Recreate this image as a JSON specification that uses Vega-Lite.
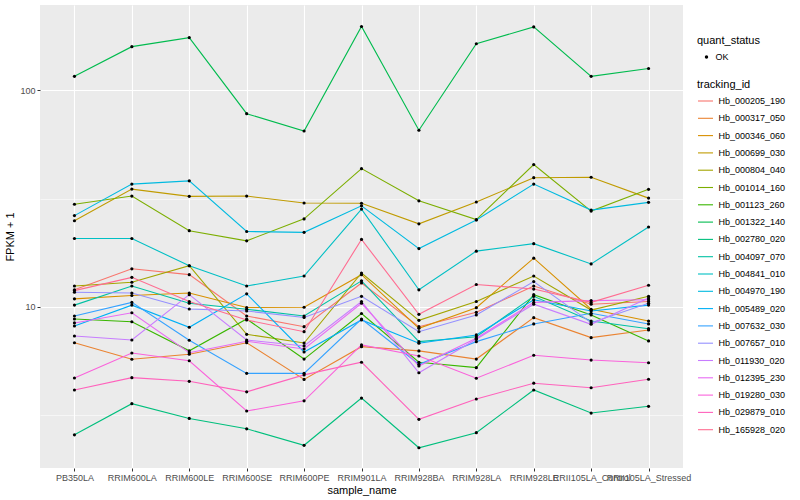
{
"$schema": "https://vega.github.io/schema/vega-lite/v6.json",
"width": 643, "height": 463,
"autosize": {"type": "none"},
"padding": {"left": 40, "top": 5, "right": 117, "bottom": 32},
"background": "white",
"config": {
  "font": "Liberation Sans",
  "view": {"fill": "#EBEBEB", "stroke": null},
  "axis": {"domain": false, "gridColor": "white", "tickColor": "#333333", "tickSize": 3, "labelColor": "#4D4D4D", "labelFontSize": 9, "labelPadding": 2, "titleFontSize": 11, "titleFontWeight": "normal", "titleColor": "black"},
  "legend": {"padding": 0, "titleFontSize": 11, "titleFontWeight": "normal", "titleColor": "black", "labelFontSize": 9, "labelColor": "black", "labelOffset": 4.5}
},
"data": {"values": [
{"tracking_id":"Hb_000205_190","sample_name":"PB350LA","fpkm":12.0,"quant_status":"OK"},
{"tracking_id":"Hb_000205_190","sample_name":"RRIM600LA","fpkm":15.0,"quant_status":"OK"},
{"tracking_id":"Hb_000205_190","sample_name":"RRIM600LE","fpkm":14.1,"quant_status":"OK"},
{"tracking_id":"Hb_000205_190","sample_name":"RRIM600SE","fpkm":9.09,"quant_status":"OK"},
{"tracking_id":"Hb_000205_190","sample_name":"RRIM600PE","fpkm":8.11,"quant_status":"OK"},
{"tracking_id":"Hb_000205_190","sample_name":"RRIM901LA","fpkm":12.9,"quant_status":"OK"},
{"tracking_id":"Hb_000205_190","sample_name":"RRIM928BA","fpkm":8.11,"quant_status":"OK"},
{"tracking_id":"Hb_000205_190","sample_name":"RRIM928LA","fpkm":9.45,"quant_status":"OK"},
{"tracking_id":"Hb_000205_190","sample_name":"RRIM928LE","fpkm":12.5,"quant_status":"OK"},
{"tracking_id":"Hb_000205_190","sample_name":"RRII105LA_Control","fpkm":10.3,"quant_status":"OK"},
{"tracking_id":"Hb_000205_190","sample_name":"RRII105LA_Stressed","fpkm":10.6,"quant_status":"OK"},
{"tracking_id":"Hb_000317_050","sample_name":"PB350LA","fpkm":6.84,"quant_status":"OK"},
{"tracking_id":"Hb_000317_050","sample_name":"RRIM600LA","fpkm":5.74,"quant_status":"OK"},
{"tracking_id":"Hb_000317_050","sample_name":"RRIM600LE","fpkm":6.05,"quant_status":"OK"},
{"tracking_id":"Hb_000317_050","sample_name":"RRIM600SE","fpkm":6.84,"quant_status":"OK"},
{"tracking_id":"Hb_000317_050","sample_name":"RRIM600PE","fpkm":4.63,"quant_status":"OK"},
{"tracking_id":"Hb_000317_050","sample_name":"RRIM901LA","fpkm":6.56,"quant_status":"OK"},
{"tracking_id":"Hb_000317_050","sample_name":"RRIM928BA","fpkm":6.27,"quant_status":"OK"},
{"tracking_id":"Hb_000317_050","sample_name":"RRIM928LA","fpkm":5.75,"quant_status":"OK"},
{"tracking_id":"Hb_000317_050","sample_name":"RRIM928LE","fpkm":8.93,"quant_status":"OK"},
{"tracking_id":"Hb_000317_050","sample_name":"RRII105LA_Control","fpkm":7.22,"quant_status":"OK"},
{"tracking_id":"Hb_000317_050","sample_name":"RRII105LA_Stressed","fpkm":7.83,"quant_status":"OK"},
{"tracking_id":"Hb_000346_060","sample_name":"PB350LA","fpkm":10.9,"quant_status":"OK"},
{"tracking_id":"Hb_000346_060","sample_name":"RRIM600LA","fpkm":11.3,"quant_status":"OK"},
{"tracking_id":"Hb_000346_060","sample_name":"RRIM600LE","fpkm":11.6,"quant_status":"OK"},
{"tracking_id":"Hb_000346_060","sample_name":"RRIM600SE","fpkm":9.95,"quant_status":"OK"},
{"tracking_id":"Hb_000346_060","sample_name":"RRIM600PE","fpkm":9.97,"quant_status":"OK"},
{"tracking_id":"Hb_000346_060","sample_name":"RRIM901LA","fpkm":14.1,"quant_status":"OK"},
{"tracking_id":"Hb_000346_060","sample_name":"RRIM928BA","fpkm":7.97,"quant_status":"OK"},
{"tracking_id":"Hb_000346_060","sample_name":"RRIM928LA","fpkm":9.93,"quant_status":"OK"},
{"tracking_id":"Hb_000346_060","sample_name":"RRIM928LE","fpkm":16.8,"quant_status":"OK"},
{"tracking_id":"Hb_000346_060","sample_name":"RRII105LA_Control","fpkm":9.76,"quant_status":"OK"},
{"tracking_id":"Hb_000346_060","sample_name":"RRII105LA_Stressed","fpkm":8.62,"quant_status":"OK"},
{"tracking_id":"Hb_000699_030","sample_name":"PB350LA","fpkm":25.0,"quant_status":"OK"},
{"tracking_id":"Hb_000699_030","sample_name":"RRIM600LA","fpkm":35.0,"quant_status":"OK"},
{"tracking_id":"Hb_000699_030","sample_name":"RRIM600LE","fpkm":32.4,"quant_status":"OK"},
{"tracking_id":"Hb_000699_030","sample_name":"RRIM600SE","fpkm":32.5,"quant_status":"OK"},
{"tracking_id":"Hb_000699_030","sample_name":"RRIM600PE","fpkm":30.2,"quant_status":"OK"},
{"tracking_id":"Hb_000699_030","sample_name":"RRIM901LA","fpkm":30.1,"quant_status":"OK"},
{"tracking_id":"Hb_000699_030","sample_name":"RRIM928BA","fpkm":24.2,"quant_status":"OK"},
{"tracking_id":"Hb_000699_030","sample_name":"RRIM928LA","fpkm":30.5,"quant_status":"OK"},
{"tracking_id":"Hb_000699_030","sample_name":"RRIM928LE","fpkm":39.5,"quant_status":"OK"},
{"tracking_id":"Hb_000699_030","sample_name":"RRII105LA_Control","fpkm":39.7,"quant_status":"OK"},
{"tracking_id":"Hb_000699_030","sample_name":"RRII105LA_Stressed","fpkm":31.8,"quant_status":"OK"},
{"tracking_id":"Hb_000804_040","sample_name":"PB350LA","fpkm":12.5,"quant_status":"OK"},
{"tracking_id":"Hb_000804_040","sample_name":"RRIM600LA","fpkm":13.0,"quant_status":"OK"},
{"tracking_id":"Hb_000804_040","sample_name":"RRIM600LE","fpkm":15.5,"quant_status":"OK"},
{"tracking_id":"Hb_000804_040","sample_name":"RRIM600SE","fpkm":7.48,"quant_status":"OK"},
{"tracking_id":"Hb_000804_040","sample_name":"RRIM600PE","fpkm":6.82,"quant_status":"OK"},
{"tracking_id":"Hb_000804_040","sample_name":"RRIM901LA","fpkm":14.35,"quant_status":"OK"},
{"tracking_id":"Hb_000804_040","sample_name":"RRIM928BA","fpkm":8.68,"quant_status":"OK"},
{"tracking_id":"Hb_000804_040","sample_name":"RRIM928LA","fpkm":10.6,"quant_status":"OK"},
{"tracking_id":"Hb_000804_040","sample_name":"RRIM928LE","fpkm":13.9,"quant_status":"OK"},
{"tracking_id":"Hb_000804_040","sample_name":"RRII105LA_Control","fpkm":9.68,"quant_status":"OK"},
{"tracking_id":"Hb_000804_040","sample_name":"RRII105LA_Stressed","fpkm":11.2,"quant_status":"OK"},
{"tracking_id":"Hb_001014_160","sample_name":"PB350LA","fpkm":29.8,"quant_status":"OK"},
{"tracking_id":"Hb_001014_160","sample_name":"RRIM600LA","fpkm":32.5,"quant_status":"OK"},
{"tracking_id":"Hb_001014_160","sample_name":"RRIM600LE","fpkm":22.5,"quant_status":"OK"},
{"tracking_id":"Hb_001014_160","sample_name":"RRIM600SE","fpkm":20.2,"quant_status":"OK"},
{"tracking_id":"Hb_001014_160","sample_name":"RRIM600PE","fpkm":25.5,"quant_status":"OK"},
{"tracking_id":"Hb_001014_160","sample_name":"RRIM901LA","fpkm":43.5,"quant_status":"OK"},
{"tracking_id":"Hb_001014_160","sample_name":"RRIM928BA","fpkm":30.9,"quant_status":"OK"},
{"tracking_id":"Hb_001014_160","sample_name":"RRIM928LA","fpkm":25.3,"quant_status":"OK"},
{"tracking_id":"Hb_001014_160","sample_name":"RRIM928LE","fpkm":45.4,"quant_status":"OK"},
{"tracking_id":"Hb_001014_160","sample_name":"RRII105LA_Control","fpkm":27.7,"quant_status":"OK"},
{"tracking_id":"Hb_001014_160","sample_name":"RRII105LA_Stressed","fpkm":34.9,"quant_status":"OK"},
{"tracking_id":"Hb_001123_260","sample_name":"PB350LA","fpkm":8.80,"quant_status":"OK"},
{"tracking_id":"Hb_001123_260","sample_name":"RRIM600LA","fpkm":8.55,"quant_status":"OK"},
{"tracking_id":"Hb_001123_260","sample_name":"RRIM600LE","fpkm":6.28,"quant_status":"OK"},
{"tracking_id":"Hb_001123_260","sample_name":"RRIM600SE","fpkm":8.80,"quant_status":"OK"},
{"tracking_id":"Hb_001123_260","sample_name":"RRIM600PE","fpkm":5.75,"quant_status":"OK"},
{"tracking_id":"Hb_001123_260","sample_name":"RRIM901LA","fpkm":9.33,"quant_status":"OK"},
{"tracking_id":"Hb_001123_260","sample_name":"RRIM928BA","fpkm":5.56,"quant_status":"OK"},
{"tracking_id":"Hb_001123_260","sample_name":"RRIM928LA","fpkm":5.25,"quant_status":"OK"},
{"tracking_id":"Hb_001123_260","sample_name":"RRIM928LE","fpkm":11.4,"quant_status":"OK"},
{"tracking_id":"Hb_001123_260","sample_name":"RRII105LA_Control","fpkm":9.19,"quant_status":"OK"},
{"tracking_id":"Hb_001123_260","sample_name":"RRII105LA_Stressed","fpkm":6.97,"quant_status":"OK"},
{"tracking_id":"Hb_001322_140","sample_name":"PB350LA","fpkm":116,"quant_status":"OK"},
{"tracking_id":"Hb_001322_140","sample_name":"RRIM600LA","fpkm":159,"quant_status":"OK"},
{"tracking_id":"Hb_001322_140","sample_name":"RRIM600LE","fpkm":175,"quant_status":"OK"},
{"tracking_id":"Hb_001322_140","sample_name":"RRIM600SE","fpkm":78.0,"quant_status":"OK"},
{"tracking_id":"Hb_001322_140","sample_name":"RRIM600PE","fpkm":64.9,"quant_status":"OK"},
{"tracking_id":"Hb_001322_140","sample_name":"RRIM901LA","fpkm":197,"quant_status":"OK"},
{"tracking_id":"Hb_001322_140","sample_name":"RRIM928BA","fpkm":65.4,"quant_status":"OK"},
{"tracking_id":"Hb_001322_140","sample_name":"RRIM928LA","fpkm":164,"quant_status":"OK"},
{"tracking_id":"Hb_001322_140","sample_name":"RRIM928LE","fpkm":196,"quant_status":"OK"},
{"tracking_id":"Hb_001322_140","sample_name":"RRII105LA_Control","fpkm":116,"quant_status":"OK"},
{"tracking_id":"Hb_001322_140","sample_name":"RRII105LA_Stressed","fpkm":126,"quant_status":"OK"},
{"tracking_id":"Hb_002780_020","sample_name":"PB350LA","fpkm":2.57,"quant_status":"OK"},
{"tracking_id":"Hb_002780_020","sample_name":"RRIM600LA","fpkm":3.58,"quant_status":"OK"},
{"tracking_id":"Hb_002780_020","sample_name":"RRIM600LE","fpkm":3.06,"quant_status":"OK"},
{"tracking_id":"Hb_002780_020","sample_name":"RRIM600SE","fpkm":2.74,"quant_status":"OK"},
{"tracking_id":"Hb_002780_020","sample_name":"RRIM600PE","fpkm":2.30,"quant_status":"OK"},
{"tracking_id":"Hb_002780_020","sample_name":"RRIM901LA","fpkm":3.80,"quant_status":"OK"},
{"tracking_id":"Hb_002780_020","sample_name":"RRIM928BA","fpkm":2.24,"quant_status":"OK"},
{"tracking_id":"Hb_002780_020","sample_name":"RRIM928LA","fpkm":2.63,"quant_status":"OK"},
{"tracking_id":"Hb_002780_020","sample_name":"RRIM928LE","fpkm":4.14,"quant_status":"OK"},
{"tracking_id":"Hb_002780_020","sample_name":"RRII105LA_Control","fpkm":3.24,"quant_status":"OK"},
{"tracking_id":"Hb_002780_020","sample_name":"RRII105LA_Stressed","fpkm":3.48,"quant_status":"OK"},
{"tracking_id":"Hb_004097_070","sample_name":"PB350LA","fpkm":10.2,"quant_status":"OK"},
{"tracking_id":"Hb_004097_070","sample_name":"RRIM600LA","fpkm":12.5,"quant_status":"OK"},
{"tracking_id":"Hb_004097_070","sample_name":"RRIM600LE","fpkm":10.4,"quant_status":"OK"},
{"tracking_id":"Hb_004097_070","sample_name":"RRIM600SE","fpkm":9.76,"quant_status":"OK"},
{"tracking_id":"Hb_004097_070","sample_name":"RRIM600PE","fpkm":9.09,"quant_status":"OK"},
{"tracking_id":"Hb_004097_070","sample_name":"RRIM901LA","fpkm":13.2,"quant_status":"OK"},
{"tracking_id":"Hb_004097_070","sample_name":"RRIM928BA","fpkm":6.92,"quant_status":"OK"},
{"tracking_id":"Hb_004097_070","sample_name":"RRIM928LA","fpkm":7.29,"quant_status":"OK"},
{"tracking_id":"Hb_004097_070","sample_name":"RRIM928LE","fpkm":11.2,"quant_status":"OK"},
{"tracking_id":"Hb_004097_070","sample_name":"RRII105LA_Control","fpkm":8.62,"quant_status":"OK"},
{"tracking_id":"Hb_004097_070","sample_name":"RRII105LA_Stressed","fpkm":7.94,"quant_status":"OK"},
{"tracking_id":"Hb_004841_010","sample_name":"PB350LA","fpkm":20.7,"quant_status":"OK"},
{"tracking_id":"Hb_004841_010","sample_name":"RRIM600LA","fpkm":20.7,"quant_status":"OK"},
{"tracking_id":"Hb_004841_010","sample_name":"RRIM600LE","fpkm":15.5,"quant_status":"OK"},
{"tracking_id":"Hb_004841_010","sample_name":"RRIM600SE","fpkm":12.5,"quant_status":"OK"},
{"tracking_id":"Hb_004841_010","sample_name":"RRIM600PE","fpkm":13.9,"quant_status":"OK"},
{"tracking_id":"Hb_004841_010","sample_name":"RRIM901LA","fpkm":28.3,"quant_status":"OK"},
{"tracking_id":"Hb_004841_010","sample_name":"RRIM928BA","fpkm":12.0,"quant_status":"OK"},
{"tracking_id":"Hb_004841_010","sample_name":"RRIM928LA","fpkm":18.1,"quant_status":"OK"},
{"tracking_id":"Hb_004841_010","sample_name":"RRIM928LE","fpkm":19.6,"quant_status":"OK"},
{"tracking_id":"Hb_004841_010","sample_name":"RRII105LA_Control","fpkm":15.8,"quant_status":"OK"},
{"tracking_id":"Hb_004841_010","sample_name":"RRII105LA_Stressed","fpkm":23.4,"quant_status":"OK"},
{"tracking_id":"Hb_004970_190","sample_name":"PB350LA","fpkm":26.4,"quant_status":"OK"},
{"tracking_id":"Hb_004970_190","sample_name":"RRIM600LA","fpkm":36.9,"quant_status":"OK"},
{"tracking_id":"Hb_004970_190","sample_name":"RRIM600LE","fpkm":38.2,"quant_status":"OK"},
{"tracking_id":"Hb_004970_190","sample_name":"RRIM600SE","fpkm":22.3,"quant_status":"OK"},
{"tracking_id":"Hb_004970_190","sample_name":"RRIM600PE","fpkm":22.1,"quant_status":"OK"},
{"tracking_id":"Hb_004970_190","sample_name":"RRIM901LA","fpkm":29.3,"quant_status":"OK"},
{"tracking_id":"Hb_004970_190","sample_name":"RRIM928BA","fpkm":18.6,"quant_status":"OK"},
{"tracking_id":"Hb_004970_190","sample_name":"RRIM928LA","fpkm":25.2,"quant_status":"OK"},
{"tracking_id":"Hb_004970_190","sample_name":"RRIM928LE","fpkm":36.9,"quant_status":"OK"},
{"tracking_id":"Hb_004970_190","sample_name":"RRII105LA_Control","fpkm":28.0,"quant_status":"OK"},
{"tracking_id":"Hb_004970_190","sample_name":"RRII105LA_Stressed","fpkm":30.4,"quant_status":"OK"},
{"tracking_id":"Hb_005489_020","sample_name":"PB350LA","fpkm":8.17,"quant_status":"OK"},
{"tracking_id":"Hb_005489_020","sample_name":"RRIM600LA","fpkm":10.2,"quant_status":"OK"},
{"tracking_id":"Hb_005489_020","sample_name":"RRIM600LE","fpkm":8.06,"quant_status":"OK"},
{"tracking_id":"Hb_005489_020","sample_name":"RRIM600SE","fpkm":11.5,"quant_status":"OK"},
{"tracking_id":"Hb_005489_020","sample_name":"RRIM600PE","fpkm":6.20,"quant_status":"OK"},
{"tracking_id":"Hb_005489_020","sample_name":"RRIM901LA","fpkm":8.71,"quant_status":"OK"},
{"tracking_id":"Hb_005489_020","sample_name":"RRIM928BA","fpkm":6.80,"quant_status":"OK"},
{"tracking_id":"Hb_005489_020","sample_name":"RRIM928LA","fpkm":7.43,"quant_status":"OK"},
{"tracking_id":"Hb_005489_020","sample_name":"RRIM928LE","fpkm":10.8,"quant_status":"OK"},
{"tracking_id":"Hb_005489_020","sample_name":"RRII105LA_Control","fpkm":9.58,"quant_status":"OK"},
{"tracking_id":"Hb_005489_020","sample_name":"RRII105LA_Stressed","fpkm":10.2,"quant_status":"OK"},
{"tracking_id":"Hb_007632_030","sample_name":"PB350LA","fpkm":9.09,"quant_status":"OK"},
{"tracking_id":"Hb_007632_030","sample_name":"RRIM600LA","fpkm":10.5,"quant_status":"OK"},
{"tracking_id":"Hb_007632_030","sample_name":"RRIM600LE","fpkm":7.02,"quant_status":"OK"},
{"tracking_id":"Hb_007632_030","sample_name":"RRIM600SE","fpkm":4.94,"quant_status":"OK"},
{"tracking_id":"Hb_007632_030","sample_name":"RRIM600PE","fpkm":4.94,"quant_status":"OK"},
{"tracking_id":"Hb_007632_030","sample_name":"RRIM901LA","fpkm":8.80,"quant_status":"OK"},
{"tracking_id":"Hb_007632_030","sample_name":"RRIM928BA","fpkm":5.44,"quant_status":"OK"},
{"tracking_id":"Hb_007632_030","sample_name":"RRIM928LA","fpkm":6.92,"quant_status":"OK"},
{"tracking_id":"Hb_007632_030","sample_name":"RRIM928LE","fpkm":8.35,"quant_status":"OK"},
{"tracking_id":"Hb_007632_030","sample_name":"RRII105LA_Control","fpkm":9.35,"quant_status":"OK"},
{"tracking_id":"Hb_007632_030","sample_name":"RRII105LA_Stressed","fpkm":8.35,"quant_status":"OK"},
{"tracking_id":"Hb_007657_010","sample_name":"PB350LA","fpkm":11.7,"quant_status":"OK"},
{"tracking_id":"Hb_007657_010","sample_name":"RRIM600LA","fpkm":11.6,"quant_status":"OK"},
{"tracking_id":"Hb_007657_010","sample_name":"RRIM600LE","fpkm":9.79,"quant_status":"OK"},
{"tracking_id":"Hb_007657_010","sample_name":"RRIM600SE","fpkm":9.58,"quant_status":"OK"},
{"tracking_id":"Hb_007657_010","sample_name":"RRIM600PE","fpkm":8.95,"quant_status":"OK"},
{"tracking_id":"Hb_007657_010","sample_name":"RRIM901LA","fpkm":11.2,"quant_status":"OK"},
{"tracking_id":"Hb_007657_010","sample_name":"RRIM928BA","fpkm":7.69,"quant_status":"OK"},
{"tracking_id":"Hb_007657_010","sample_name":"RRIM928LA","fpkm":9.19,"quant_status":"OK"},
{"tracking_id":"Hb_007657_010","sample_name":"RRIM928LE","fpkm":13.1,"quant_status":"OK"},
{"tracking_id":"Hb_007657_010","sample_name":"RRII105LA_Control","fpkm":8.46,"quant_status":"OK"},
{"tracking_id":"Hb_007657_010","sample_name":"RRII105LA_Stressed","fpkm":10.4,"quant_status":"OK"},
{"tracking_id":"Hb_011930_020","sample_name":"PB350LA","fpkm":7.35,"quant_status":"OK"},
{"tracking_id":"Hb_011930_020","sample_name":"RRIM600LA","fpkm":7.04,"quant_status":"OK"},
{"tracking_id":"Hb_011930_020","sample_name":"RRIM600LE","fpkm":11.4,"quant_status":"OK"},
{"tracking_id":"Hb_011930_020","sample_name":"RRIM600SE","fpkm":7.04,"quant_status":"OK"},
{"tracking_id":"Hb_011930_020","sample_name":"RRIM600PE","fpkm":6.61,"quant_status":"OK"},
{"tracking_id":"Hb_011930_020","sample_name":"RRIM901LA","fpkm":10.6,"quant_status":"OK"},
{"tracking_id":"Hb_011930_020","sample_name":"RRIM928BA","fpkm":4.97,"quant_status":"OK"},
{"tracking_id":"Hb_011930_020","sample_name":"RRIM928LA","fpkm":7.10,"quant_status":"OK"},
{"tracking_id":"Hb_011930_020","sample_name":"RRIM928LE","fpkm":10.3,"quant_status":"OK"},
{"tracking_id":"Hb_011930_020","sample_name":"RRII105LA_Control","fpkm":8.32,"quant_status":"OK"},
{"tracking_id":"Hb_011930_020","sample_name":"RRII105LA_Stressed","fpkm":11.0,"quant_status":"OK"},
{"tracking_id":"Hb_012395_230","sample_name":"PB350LA","fpkm":8.44,"quant_status":"OK"},
{"tracking_id":"Hb_012395_230","sample_name":"RRIM600LA","fpkm":9.41,"quant_status":"OK"},
{"tracking_id":"Hb_012395_230","sample_name":"RRIM600LE","fpkm":6.15,"quant_status":"OK"},
{"tracking_id":"Hb_012395_230","sample_name":"RRIM600SE","fpkm":6.95,"quant_status":"OK"},
{"tracking_id":"Hb_012395_230","sample_name":"RRIM600PE","fpkm":6.40,"quant_status":"OK"},
{"tracking_id":"Hb_012395_230","sample_name":"RRIM901LA","fpkm":10.4,"quant_status":"OK"},
{"tracking_id":"Hb_012395_230","sample_name":"RRIM928BA","fpkm":5.34,"quant_status":"OK"},
{"tracking_id":"Hb_012395_230","sample_name":"RRIM928LA","fpkm":7.17,"quant_status":"OK"},
{"tracking_id":"Hb_012395_230","sample_name":"RRIM928LE","fpkm":10.5,"quant_status":"OK"},
{"tracking_id":"Hb_012395_230","sample_name":"RRII105LA_Control","fpkm":10.7,"quant_status":"OK"},
{"tracking_id":"Hb_012395_230","sample_name":"RRII105LA_Stressed","fpkm":10.8,"quant_status":"OK"},
{"tracking_id":"Hb_019280_030","sample_name":"PB350LA","fpkm":4.70,"quant_status":"OK"},
{"tracking_id":"Hb_019280_030","sample_name":"RRIM600LA","fpkm":6.13,"quant_status":"OK"},
{"tracking_id":"Hb_019280_030","sample_name":"RRIM600LE","fpkm":5.65,"quant_status":"OK"},
{"tracking_id":"Hb_019280_030","sample_name":"RRIM600SE","fpkm":3.31,"quant_status":"OK"},
{"tracking_id":"Hb_019280_030","sample_name":"RRIM600PE","fpkm":3.69,"quant_status":"OK"},
{"tracking_id":"Hb_019280_030","sample_name":"RRIM901LA","fpkm":6.68,"quant_status":"OK"},
{"tracking_id":"Hb_019280_030","sample_name":"RRIM928BA","fpkm":5.94,"quant_status":"OK"},
{"tracking_id":"Hb_019280_030","sample_name":"RRIM928LA","fpkm":4.69,"quant_status":"OK"},
{"tracking_id":"Hb_019280_030","sample_name":"RRIM928LE","fpkm":5.99,"quant_status":"OK"},
{"tracking_id":"Hb_019280_030","sample_name":"RRII105LA_Control","fpkm":5.69,"quant_status":"OK"},
{"tracking_id":"Hb_019280_030","sample_name":"RRII105LA_Stressed","fpkm":5.53,"quant_status":"OK"},
{"tracking_id":"Hb_029879_010","sample_name":"PB350LA","fpkm":4.14,"quant_status":"OK"},
{"tracking_id":"Hb_029879_010","sample_name":"RRIM600LA","fpkm":4.72,"quant_status":"OK"},
{"tracking_id":"Hb_029879_010","sample_name":"RRIM600LE","fpkm":4.54,"quant_status":"OK"},
{"tracking_id":"Hb_029879_010","sample_name":"RRIM600SE","fpkm":4.06,"quant_status":"OK"},
{"tracking_id":"Hb_029879_010","sample_name":"RRIM600PE","fpkm":4.86,"quant_status":"OK"},
{"tracking_id":"Hb_029879_010","sample_name":"RRIM901LA","fpkm":5.56,"quant_status":"OK"},
{"tracking_id":"Hb_029879_010","sample_name":"RRIM928BA","fpkm":3.03,"quant_status":"OK"},
{"tracking_id":"Hb_029879_010","sample_name":"RRIM928LA","fpkm":3.76,"quant_status":"OK"},
{"tracking_id":"Hb_029879_010","sample_name":"RRIM928LE","fpkm":4.45,"quant_status":"OK"},
{"tracking_id":"Hb_029879_010","sample_name":"RRII105LA_Control","fpkm":4.24,"quant_status":"OK"},
{"tracking_id":"Hb_029879_010","sample_name":"RRII105LA_Stressed","fpkm":4.64,"quant_status":"OK"},
{"tracking_id":"Hb_165928_020","sample_name":"PB350LA","fpkm":11.9,"quant_status":"OK"},
{"tracking_id":"Hb_165928_020","sample_name":"RRIM600LA","fpkm":13.7,"quant_status":"OK"},
{"tracking_id":"Hb_165928_020","sample_name":"RRIM600LE","fpkm":10.6,"quant_status":"OK"},
{"tracking_id":"Hb_165928_020","sample_name":"RRIM600SE","fpkm":8.71,"quant_status":"OK"},
{"tracking_id":"Hb_165928_020","sample_name":"RRIM600PE","fpkm":7.69,"quant_status":"OK"},
{"tracking_id":"Hb_165928_020","sample_name":"RRIM901LA","fpkm":20.5,"quant_status":"OK"},
{"tracking_id":"Hb_165928_020","sample_name":"RRIM928BA","fpkm":9.25,"quant_status":"OK"},
{"tracking_id":"Hb_165928_020","sample_name":"RRIM928LA","fpkm":12.7,"quant_status":"OK"},
{"tracking_id":"Hb_165928_020","sample_name":"RRIM928LE","fpkm":12.1,"quant_status":"OK"},
{"tracking_id":"Hb_165928_020","sample_name":"RRII105LA_Control","fpkm":10.5,"quant_status":"OK"},
{"tracking_id":"Hb_165928_020","sample_name":"RRII105LA_Stressed","fpkm":12.6,"quant_status":"OK"}
]},
"encoding": {
  "x": {"field": "sample_name", "type": "nominal",
        "sort": ["PB350LA","RRIM600LA","RRIM600LE","RRIM600SE","RRIM600PE","RRIM901LA","RRIM928BA","RRIM928LA","RRIM928LE","RRII105LA_Control","RRII105LA_Stressed"],
        "scale": {"type": "point", "padding": 0.6},
        "axis": {"title": "sample_name", "labelAngle": 0, "grid": true, "gridWidth": 1.1, "titlePadding": 2, "labelOverlap": false}},
  "y": {"field": "fpkm", "type": "quantitative",
        "scale": {"type": "log", "domain": [1.807, 247.5], "nice": false},
        "axis": {"title": "FPKM + 1", "values": [3.1623, 10, 31.623, 100], "grid": true,
                 "gridWidth": {"condition": {"test": "(datum.value > 9 && datum.value < 11) || (datum.value > 90 && datum.value < 110)", "value": 1.1}, "value": 0.55},
                 "tickOpacity": {"condition": {"test": "(datum.value > 9 && datum.value < 11) || (datum.value > 90 && datum.value < 110)", "value": 1}, "value": 0},
                 "labelExpr": "((datum.value > 9 && datum.value < 11) || (datum.value > 90 && datum.value < 110)) ? format(datum.value, 'd') : ''",
                 "titlePadding": 4}}
},
"layer": [
  {"mark": {"type": "line", "strokeWidth": 1.1},
   "encoding": {
     "color": {"field": "tracking_id", "type": "nominal",
       "scale": {"domain": ["Hb_000205_190","Hb_000317_050","Hb_000346_060","Hb_000699_030","Hb_000804_040","Hb_001014_160","Hb_001123_260","Hb_001322_140","Hb_002780_020","Hb_004097_070","Hb_004841_010","Hb_004970_190","Hb_005489_020","Hb_007632_030","Hb_007657_010","Hb_011930_020","Hb_012395_230","Hb_019280_030","Hb_029879_010","Hb_165928_020"],
                 "range": ["#F8766D","#EA8331","#D89000","#C09B00","#A3A500","#7CAE00","#39B600","#00BB4E","#00BF7D","#00C1A3","#00BFC4","#00BAE0","#00B0F6","#35A2FF","#9590FF","#C77CFF","#E76BF3","#FA62DB","#FF62BC","#FF6C91"]},
       "legend": {"title": "tracking_id", "orient": "none", "legendX": 657, "legendY": 73.5, "symbolType": "stroke", "symbolSize": 225, "symbolStrokeWidth": 1.1, "rowPadding": 3.3, "titlePadding": 3}},
     "order": {"value": null}
   }},
  {"mark": {"type": "point", "filled": true, "size": 10, "opacity": 1, "color": "black"},
   "encoding": {
     "shape": {"field": "quant_status", "type": "nominal", "scale": {"range": ["circle"]},
       "legend": {"title": "quant_status", "orient": "none", "legendX": 657, "legendY": 29.5, "symbolFillColor": "black", "symbolStrokeColor": "black", "symbolSize": 12, "titlePadding": 7, "symbolOffset": 5}}
   }}
]
}
